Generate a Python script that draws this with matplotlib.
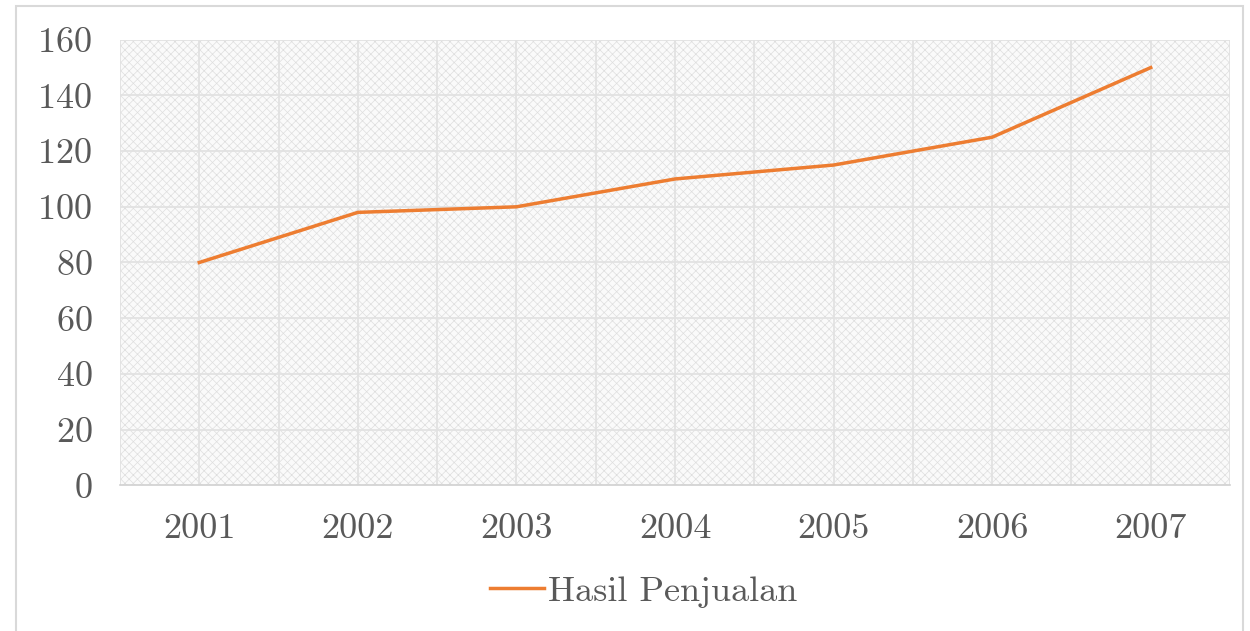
import numpy as np
import matplotlib.pyplot as plt
from matplotlib.patches import Rectangle

# data
tahun = ["2001", "2002", "2003", "2004", "2005", "2006", "2007"]
penjualan = [80, 98, 100, 110, 115, 125, 150]
yticks = [0, 20, 40, 60, 80, 100, 120, 140, 160]

plt.rcParams['font.family'] = ['cmr10', 'DejaVu Serif']
plt.rcParams['axes.formatter.use_mathtext'] = True
plt.rcParams['hatch.linewidth'] = 0.5
plt.rcParams['hatch.color'] = '#dedede'

fig = plt.figure(figsize=(12.5, 6.31), dpi=100)
ax = fig.add_axes([0.096, 0.231, 0.888, 0.706])

x = np.arange(len(tahun))
ax.set_xlim(-0.5, len(tahun) - 0.5)
ax.set_ylim(0, 160)

# latar belakang berpola
ax.add_patch(Rectangle((-0.5, 0), len(tahun), 160, facecolor='#fafafa',
                       edgecolor='#dedede', hatch='xxxx', linewidth=0, zorder=0))

# garis grid
for gx in np.arange(-0.5, len(tahun), 0.5):
    ax.axvline(gx, color='#e2e2e2', linewidth=1.3, zorder=1)
for gy in yticks[1:]:
    ax.axhline(gy, color='#e2e2e2', linewidth=1.3, zorder=1)

ax.plot(x, penjualan, color='#ED7D31', linewidth=2.5, label='Hasil Penjualan', zorder=3)

ax.set_xticks(x)
ax.set_xticklabels(tahun)
ax.set_yticks(yticks)
for s in ['top', 'right', 'left']:
    ax.spines[s].set_visible(False)
ax.spines['bottom'].set_color('#d0d0d0')
ax.spines['bottom'].set_linewidth(1.2)
ax.tick_params(axis='both', length=0, labelsize=26, colors='#595959')
ax.tick_params(axis='x', pad=20)
ax.tick_params(axis='y', pad=20)

leg = fig.legend(loc='center', bbox_to_anchor=(0.515, 0.062), frameon=False,
                 fontsize=26, handlelength=1.5, handletextpad=0.1)
for t in leg.get_texts():
    t.set_color('#595959')

# bingkai luar
fig.add_artist(Rectangle((0.013, -0.01), 0.981, 1.0, transform=fig.transFigure,
                         fill=False, edgecolor='#d9d9d9', linewidth=1.5))

plt.savefig("out.png", dpi=100)
